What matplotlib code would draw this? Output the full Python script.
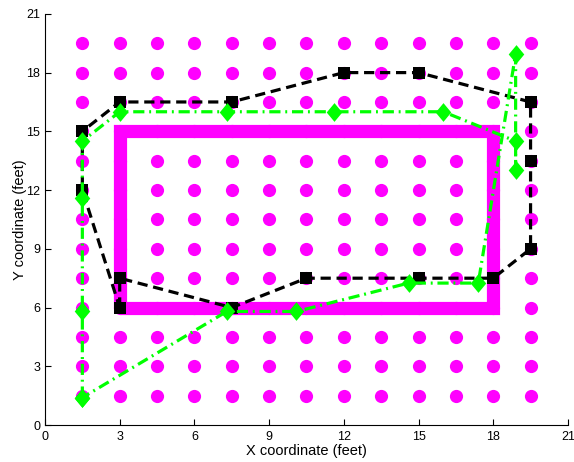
import numpy as np
import matplotlib
matplotlib.use('Agg')
import matplotlib.pyplot as plt

plt.rcParams['font.family'] = ['Liberation Sans', 'DejaVu Sans']

############################################################ DATA
# sensor grid (feet)
grid_x = [1.5, 3, 4.5, 6, 7.5, 9, 10.5, 12, 13.5, 15, 16.5, 18, 19.5]
grid_y = [1.5, 3, 4.5, 6, 7.5, 9, 10.5, 12, 13.5, 15, 16.5, 18, 19.5]

# walking rectangle
rect_x = [3, 18, 18, 3, 3]
rect_y = [6, 6, 15, 15, 6]

# black estimated track (squares)
trk1_x = [3, 3, 7.5, 10.5, 15, 18, 19.5, 19.5, 19.5, 15, 12, 7.5, 3, 1.5, 1.5, 3]
trk1_y = [6, 7.5, 6, 7.5, 7.5, 7.5, 9, 13.5, 16.5, 18, 18, 16.5, 16.5, 15, 12, 6]

# green estimated track (diamonds)
trk2_x = [1.5, 1.5, 1.5, 1.5, 3, 7.3, 11.6, 16.0, 18.9, 18.9, 18.9, 17.4, 14.6, 10.1, 7.3, 1.5]
trk2_y = [1.4, 5.8, 11.6, 14.5, 16.0, 16.0, 16.0, 16.0, 14.5, 13.05, 18.95, 7.25, 7.25, 5.8, 5.8, 1.4]

ticks = [0, 3, 6, 9, 12, 15, 18, 21]

############################################################ PLOT
fig = plt.figure(figsize=(5.74, 4.62), dpi=100)
ax = fig.add_axes([0.0784, 0.080, 0.911, 0.890])

gx, gy = np.meshgrid(grid_x, grid_y)
ax.plot(gx.ravel(), gy.ravel(), linestyle='none', marker='o', markersize=9.5,
        color='#ff00ff', markeredgewidth=0, zorder=1)

ax.plot(rect_x, rect_y, color='#ff00ff', linewidth=9.5, solid_joinstyle='miter',
        solid_capstyle='butt', zorder=2)

ax.plot(trk1_x, trk1_y, color='black', linestyle=(0, (3.2, 1.8)), linewidth=2.3,
        marker='s', markersize=8.5, markeredgewidth=0, zorder=3)

diamond = [(0, 1), (0.83, 0), (0, -1), (-0.83, 0), (0, 1)]
ax.plot(trk2_x, trk2_y, color='#00ff00', linestyle=(0, (3.5, 1.5, 0.6, 1.5)), linewidth=2.3,
        marker=diamond, markersize=13.5, markeredgewidth=0, zorder=4)

ax.set_xlim(0, 21)
ax.set_ylim(0, 21)
ax.set_xticks(ticks)
ax.set_yticks(ticks)
ax.tick_params(direction='in', length=4, labelsize=9)
ax.tick_params(axis='x', pad=4)
ax.tick_params(axis='y', pad=3.5)
ax.spines['top'].set_visible(False)
ax.spines['right'].set_visible(False)
ax.set_xlabel('X coordinate (feet)', fontsize=10.5)
ax.set_ylabel('Y coordinate (feet)', fontsize=10.5)
ax.xaxis.set_label_coords(0.5, -0.046)
ax.yaxis.set_label_coords(-0.034, 0.5)

fig.savefig('out.png', dpi=100)
